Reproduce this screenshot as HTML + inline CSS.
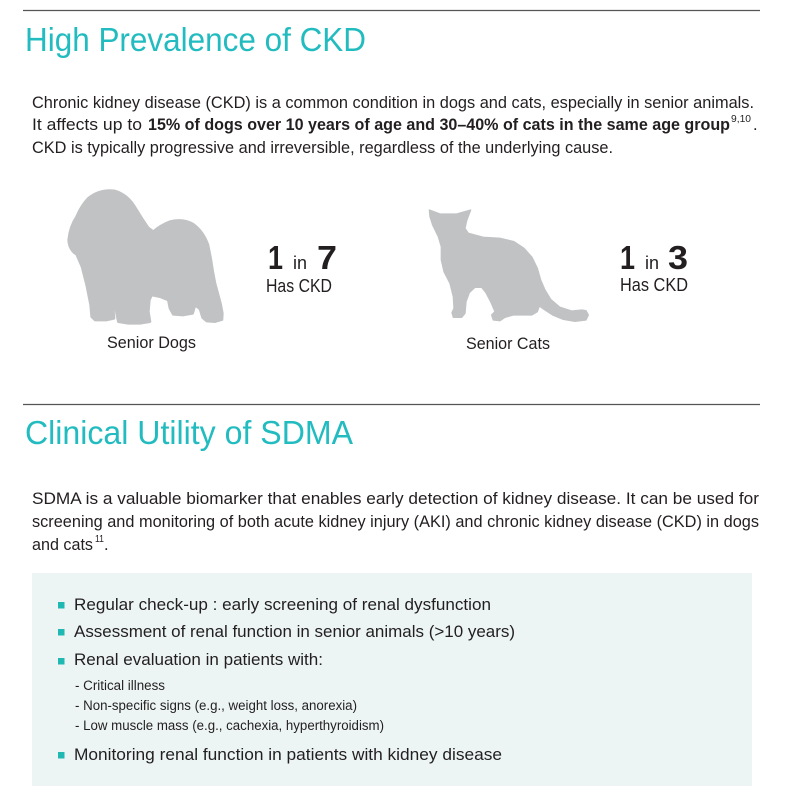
<!DOCTYPE html>
<html><head><meta charset="utf-8"><style>
html,body{margin:0;padding:0;background:#fff;}
svg{display:block;}
text{font-family:"Liberation Sans","DejaVu Sans",sans-serif;fill:#231f20;}
.t{fill:#22bcc0;font-size:33px;}
.b{font-size:16.5px;}
.bl{font-size:17px;}
.s{font-size:13.5px;}
</style></head><body>
<svg width="786" height="796" viewBox="0 0 786 796" xmlns="http://www.w3.org/2000/svg">
<rect width="786" height="796" fill="#fff"/>
<line x1="23" y1="10.5" x2="760" y2="10.5" stroke="#555" stroke-width="1.3"/>
<text class="t" x="25" y="51" textLength="341" lengthAdjust="spacingAndGlyphs">High Prevalence of CKD</text>

<text class="b" x="32" y="108" textLength="722" lengthAdjust="spacingAndGlyphs">Chronic kidney disease (CKD) is a common condition in dogs and cats, especially in senior animals.</text>
<text class="b" x="32" y="130" textLength="110" lengthAdjust="spacingAndGlyphs">It affects up to</text>
<text class="b" x="148" y="130" font-weight="bold" textLength="582" lengthAdjust="spacingAndGlyphs">15% of dogs over 10 years of age and 30–40% of cats in the same age group</text>
<text x="731" y="122" font-size="10" textLength="20" lengthAdjust="spacingAndGlyphs">9,10</text>
<text class="b" x="753" y="130">.</text>
<text class="b" x="32" y="153" textLength="581" lengthAdjust="spacingAndGlyphs">CKD is typically progressive and irreversible, regardless of the underlying cause.</text>

<!-- Dog -->
<g transform="translate(60,185) scale(0.3333)" fill="#c1c2c4" stroke="#c1c2c4" stroke-width="8" stroke-linejoin="round">
<path d="M85,40 Q120,12 165,18 Q205,30 228,72 L248,104 L264,128 L280,140 Q300,122 330,110 Q370,100 400,118 Q430,140 444,180 L452,220 L458,258 L465,295 L474,328 L482,358 L487,385 L486,404 L465,410 L440,408 L428,398 L420,372 L405,360 L398,385 L370,390 L340,388 L330,370 L325,345 L300,335 L275,330 L268,345 L265,380 L270,410 L240,415 L205,415 L175,410 L170,385 L166,365 L160,375 L162,400 L140,405 L105,405 L95,395 L92,360 L80,300 L66,245 L50,208 Q28,195 26,165 Q30,125 50,95 Q65,60 85,40 Z"/>
</g>
<text x="268" y="269" font-size="33" font-weight="bold" textLength="15" lengthAdjust="spacingAndGlyphs">1</text>
<text x="293" y="269" font-size="18" textLength="14" lengthAdjust="spacingAndGlyphs">in</text>
<text x="317" y="269" font-size="33" font-weight="bold" textLength="20" lengthAdjust="spacingAndGlyphs">7</text>
<text x="266" y="292" font-size="18" textLength="66" lengthAdjust="spacingAndGlyphs">Has CKD</text>
<text class="b" x="107" y="348" textLength="89" lengthAdjust="spacingAndGlyphs">Senior Dogs</text>

<!-- Cat -->
<g transform="translate(420,200) scale(0.3333)" fill="#c1c2c4" stroke="#c1c2c4" stroke-width="4" stroke-linejoin="round">
<path d="M28,30 L60,42 L110,42 L152,30 L140,62 L135,85 L145,100 L190,112 L240,115 L282,125 L312,145 L336,172 L352,205 L362,240 L375,270 L392,298 L420,322 L455,333 L485,330 L498,332 L505,345 L498,360 L465,364 L430,358 L398,345 L372,328 L358,318 L352,335 L335,345 L280,345 L255,352 L240,362 L220,360 L215,345 L225,335 L212,305 L198,278 L185,262 L165,262 L148,278 L138,305 L135,340 L125,352 L100,352 L96,338 L102,325 L100,290 L90,250 L72,215 L64,180 L64,140 L55,110 L38,75 L30,50 Z"/>
</g>
<text x="620" y="269" font-size="33" font-weight="bold" textLength="15" lengthAdjust="spacingAndGlyphs">1</text>
<text x="645" y="269" font-size="18" textLength="14" lengthAdjust="spacingAndGlyphs">in</text>
<text x="668" y="269" font-size="33" font-weight="bold" textLength="20" lengthAdjust="spacingAndGlyphs">3</text>
<text x="620" y="291" font-size="18" textLength="68" lengthAdjust="spacingAndGlyphs">Has CKD</text>
<text class="b" x="466" y="349" textLength="84" lengthAdjust="spacingAndGlyphs">Senior Cats</text>

<line x1="23" y1="404.5" x2="760" y2="404.5" stroke="#555" stroke-width="1.3"/>
<text class="t" x="25" y="444" textLength="328" lengthAdjust="spacingAndGlyphs">Clinical Utility of SDMA</text>

<text class="b" x="32" y="504" textLength="727" lengthAdjust="spacingAndGlyphs">SDMA is a valuable biomarker that enables early detection of kidney disease. It can be used for</text>
<text class="b" x="32" y="527" textLength="727" lengthAdjust="spacingAndGlyphs">screening and monitoring of both acute kidney injury (AKI) and chronic kidney disease (CKD) in dogs</text>
<text class="b" x="32" y="550" textLength="61" lengthAdjust="spacingAndGlyphs">and cats</text>
<text x="95" y="542" font-size="10" textLength="9" lengthAdjust="spacingAndGlyphs">11</text>
<text class="b" x="104" y="550">.</text>

<rect x="32" y="573" width="720" height="213" fill="#ecf5f4"/>
<g fill="#1fb8b2">
<rect x="58" y="602" width="6.5" height="6.5"/>
<rect x="58" y="629" width="6.5" height="6.5"/>
<rect x="58" y="658" width="6.5" height="6.5"/>
<rect x="58" y="752" width="6.5" height="6.5"/>
</g>
<text class="bl" x="74" y="610" textLength="417" lengthAdjust="spacingAndGlyphs">Regular check-up : early screening of renal dysfunction</text>
<text class="bl" x="74" y="637" textLength="441" lengthAdjust="spacingAndGlyphs">Assessment of renal function in senior animals (&gt;10 years)</text>
<text class="bl" x="74" y="665" textLength="249" lengthAdjust="spacingAndGlyphs">Renal evaluation in patients with:</text>
<text class="s" x="75" y="690" textLength="90" lengthAdjust="spacingAndGlyphs">- Critical illness</text>
<text class="s" x="75" y="710" textLength="282" lengthAdjust="spacingAndGlyphs">- Non-specific signs (e.g., weight loss, anorexia)</text>
<text class="s" x="75" y="730" textLength="309" lengthAdjust="spacingAndGlyphs">- Low muscle mass (e.g., cachexia, hyperthyroidism)</text>
<text class="bl" x="74" y="760" textLength="428" lengthAdjust="spacingAndGlyphs">Monitoring renal function in patients with kidney disease</text>
</svg>
</body></html>
